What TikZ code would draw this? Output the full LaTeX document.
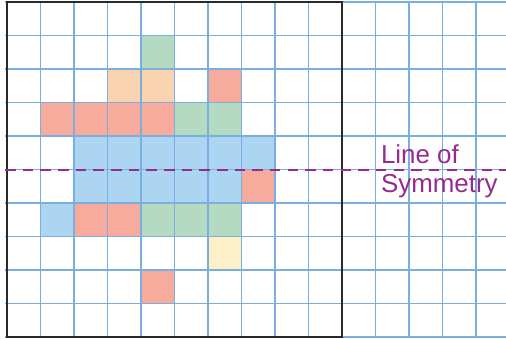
\documentclass[tikz,border=0pt]{standalone}
\usepackage{fontspec}
\usepackage{xcolor}
\usepackage{tikz}
\usetikzlibrary{positioning}
\newfontfamily\symlabelfont{Liberation Sans}
\definecolor{SymGrid}{HTML}{7AAEDE}
\definecolor{SymFrame}{HTML}{2A2A2A}
\definecolor{SymPurple}{HTML}{952B8F}
\definecolor{SymBlue}{HTML}{ABD5F0}
\definecolor{SymRed}{HTML}{F7AB9C}
\definecolor{SymGreen}{HTML}{B4DBC1}
\definecolor{SymPeach}{HTML}{FAD3B0}
\definecolor{SymYellow}{HTML}{FDEFC8}

\begin{document}
\begin{tikzpicture}[x=1cm,y=1cm,
 cellgrid/.style={draw=SymGrid,line width=1.5pt},
 frame/.style={draw=SymFrame,line width=1.3pt},
 mirror/.style={draw=SymPurple,line width=1.7pt,dash pattern=on 9pt off 6pt},
 note/.style={font=\symlabelfont\fontsize{22}{25.5}\selectfont,color=SymPurple,inner sep=0pt,anchor=base west}]
\useasboundingbox (-0.209,-0.03) rectangle (14.896,10.06);
% coloured squares
\foreach \c/\r in {2/5,3/5,4/5,5/5,6/5,7/5,2/4,3/4,4/4,5/4,6/4,1/3}
  \fill[SymBlue] (\c,\r) rectangle ++(1,1);
\foreach \c/\r in {6/7,1/6,2/6,3/6,4/6,7/4,2/3,3/3,4/1}
  \fill[SymRed] (\c,\r) rectangle ++(1,1);
\foreach \c/\r in {4/8,5/6,6/6,4/3,5/3,6/3}
  \fill[SymGreen] (\c,\r) rectangle ++(1,1);
\foreach \c/\r in {3/7,4/7}
  \fill[SymPeach] (\c,\r) rectangle ++(1,1);
\fill[SymYellow] (6,2) rectangle ++(1,1);
% grid and frame
\draw[cellgrid] (-0.06,0) grid (14.9,10);
\draw[frame] (0,0) rectangle (10,10);
% line of symmetry
\coordinate (axisL) at (-0.06,5);
\coordinate (axisR) at (14.9,5);
\draw[mirror] (axisL) -- (axisR);
\node[note] (symline) at (11.16,5.19) {Line of};
\node[note] (symword) at (11.16,4.30) {Symmetry};
\end{tikzpicture}
\end{document}
